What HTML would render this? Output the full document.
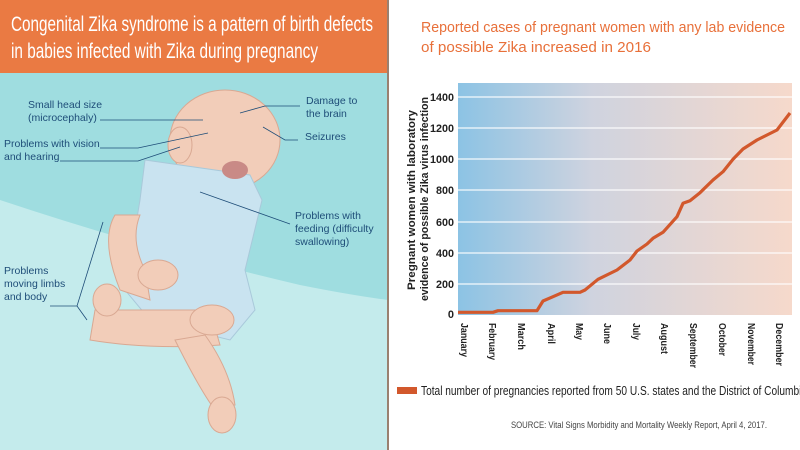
<!DOCTYPE html>
<html><head><meta charset="utf-8"><style>
html,body{margin:0;padding:0;width:800px;height:450px;overflow:hidden;background:#fff}
svg text{font-family:"Liberation Sans",sans-serif}
</style></head><body>
<svg width="800" height="450" viewBox="0 0 800 450" xmlns="http://www.w3.org/2000/svg">
<defs>
<linearGradient id="pg" x1="0" x2="1" y1="0" y2="0">
<stop offset="0" stop-color="#8cc3e4"/><stop offset="0.4" stop-color="#cfd3df"/><stop offset="1" stop-color="#f6d9cb"/>
</linearGradient>
</defs>
<rect x="0" y="73" width="388" height="377" fill="#9fdde0"/>
<path d="M0 200 Q150 250 300 285 Q350 295 388 300 L388 450 L0 450 Z" fill="#c4ebec"/>
<rect x="0" y="0" width="388" height="73" fill="#ea7a43"/>
<rect x="387" y="0" width="2" height="450" fill="#9a8070"/>
<text x="11" y="31" font-size="21" fill="#fff" textLength="362" lengthAdjust="spacingAndGlyphs">Congenital Zika syndrome is a pattern of birth defects</text>
<text x="11" y="58" font-size="21" fill="#fff" textLength="307" lengthAdjust="spacingAndGlyphs">in babies infected with Zika during pregnancy</text>
<g fill="#f2cdb9" stroke="#d9a892" stroke-width="1">
<ellipse cx="225" cy="140" rx="55" ry="50"/>
<ellipse cx="180" cy="145" rx="12" ry="18"/>
<path d="M145 160 L250 175 L262 200 L245 270 L255 310 L230 340 L150 320 L125 290 L140 200 Z" fill="#c9e3f0" stroke="#a9c9da"/>
<path d="M115 215 Q100 240 120 290 L150 300 L145 270 Q130 240 140 215 Z"/>
<path d="M210 310 Q160 310 95 310 L90 340 Q150 350 220 345 Z"/>
<ellipse cx="107" cy="300" rx="14" ry="16"/>
<path d="M175 340 Q200 390 215 410 L235 405 Q230 370 205 335 Z"/>
<ellipse cx="222" cy="415" rx="14" ry="18"/>
<ellipse cx="158" cy="275" rx="20" ry="15"/>
<ellipse cx="212" cy="320" rx="22" ry="15"/>
</g>
<ellipse cx="235" cy="170" rx="13" ry="9" fill="#c98a86"/>
<g fill="#1e4d78" font-size="10.5">
<text x="28" y="108">Small head size</text>
<text x="28" y="121">(microcephaly)</text>
<text x="4" y="147">Problems with vision</text>
<text x="4" y="160">and hearing</text>
<text x="306" y="104">Damage to</text>
<text x="306" y="117">the brain</text>
<text x="305" y="140">Seizures</text>
<text x="295" y="219">Problems with</text>
<text x="295" y="232">feeding (difficulty</text>
<text x="295" y="245">swallowing)</text>
<text x="4" y="274">Problems</text>
<text x="4" y="287">moving limbs</text>
<text x="4" y="300">and body</text>
</g>
<g stroke="#1e4d78" stroke-width="0.8" fill="none">
<path d="M100 120 L203 120"/><path d="M100 148 L138 148 L208 133"/><path d="M60 161 L138 161 L180 147"/>
<path d="M300 106 L265 106 L240 113"/><path d="M298 140 L285 140 L263 127"/>
<path d="M290 224 L200 192"/><path d="M50 306 L77 306 L103 222"/><path d="M77 306 L87 320"/>
</g>
<text x="421" y="32" font-size="15" fill="#e8703a" textLength="364" lengthAdjust="spacingAndGlyphs">Reported cases of pregnant women with any lab evidence</text>
<text x="421" y="52" font-size="15" fill="#e8703a" textLength="230" lengthAdjust="spacingAndGlyphs">of possible Zika increased in 2016</text>
<rect x="458" y="83" width="334" height="232" fill="url(#pg)"/>
<g stroke="#fff" stroke-width="1.2" opacity="0.9">
<line x1="458" x2="792" y1="97" y2="97"/><line x1="458" x2="792" y1="128" y2="128"/>
<line x1="458" x2="792" y1="159" y2="159"/><line x1="458" x2="792" y1="190" y2="190"/>
<line x1="458" x2="792" y1="222" y2="222"/><line x1="458" x2="792" y1="253" y2="253"/>
<line x1="458" x2="792" y1="284" y2="284"/>
</g>
<g font-size="11" font-weight="bold" fill="#222" text-anchor="end">
<text x="454" y="101" textLength="24" lengthAdjust="spacingAndGlyphs">1400</text><text x="454" y="132" textLength="24" lengthAdjust="spacingAndGlyphs">1200</text><text x="454" y="163" textLength="24" lengthAdjust="spacingAndGlyphs">1000</text>
<text x="454" y="194" textLength="18" lengthAdjust="spacingAndGlyphs">800</text><text x="454" y="226" textLength="18" lengthAdjust="spacingAndGlyphs">600</text><text x="454" y="257" textLength="18" lengthAdjust="spacingAndGlyphs">400</text>
<text x="454" y="288" textLength="18" lengthAdjust="spacingAndGlyphs">200</text><text x="454" y="318">0</text>
</g>
<g font-size="11" font-weight="bold" fill="#222">
<text transform="translate(415,290) rotate(-90)" textLength="180" lengthAdjust="spacingAndGlyphs">Pregnant women with laboratory</text>
<text transform="translate(428,301) rotate(-90)" textLength="204" lengthAdjust="spacingAndGlyphs">evidence of possible Zika virus infection</text>
</g>
<polyline fill="none" stroke="#d2582c" stroke-width="3.2" stroke-linejoin="round" points="458,312.3 493,312.3 498,310.7 537,310.7 543,301 553,296.7 563,292.3 580,292.3 585,290 598,279.3 617,270 630,260 637,251 647,244 653,238.3 663,232.3 677,216.7 683,203.3 690,200.7 700,192.7 713,180 723,171.7 733,159.3 743,149 757,140 777,130 790,113"/>
<g font-size="10.5" font-weight="bold" fill="#222">
<text transform="translate(461,323) rotate(90)" textLength="34" lengthAdjust="spacingAndGlyphs">January</text>
<text transform="translate(489,323) rotate(90)" textLength="37" lengthAdjust="spacingAndGlyphs">February</text>
<text transform="translate(518,323) rotate(90)" textLength="27" lengthAdjust="spacingAndGlyphs">March</text>
<text transform="translate(548,323) rotate(90)" textLength="21" lengthAdjust="spacingAndGlyphs">April</text>
<text transform="translate(576,323) rotate(90)" textLength="17" lengthAdjust="spacingAndGlyphs">May</text>
<text transform="translate(604,323) rotate(90)" textLength="21" lengthAdjust="spacingAndGlyphs">June</text>
<text transform="translate(633,323) rotate(90)" textLength="17" lengthAdjust="spacingAndGlyphs">July</text>
<text transform="translate(661,323) rotate(90)" textLength="31" lengthAdjust="spacingAndGlyphs">August</text>
<text transform="translate(690,323) rotate(90)" textLength="45" lengthAdjust="spacingAndGlyphs">September</text>
<text transform="translate(719,323) rotate(90)" textLength="33" lengthAdjust="spacingAndGlyphs">October</text>
<text transform="translate(748,323) rotate(90)" textLength="42" lengthAdjust="spacingAndGlyphs">November</text>
<text transform="translate(776,323) rotate(90)" textLength="43" lengthAdjust="spacingAndGlyphs">December</text>
</g>
<rect x="397" y="387" width="20" height="7" fill="#d2582c"/>
<text x="421" y="395" font-size="12.5" fill="#222" textLength="386" lengthAdjust="spacingAndGlyphs">Total number of pregnancies reported from 50 U.S. states and the District of Columbia</text>
<text x="511" y="428" font-size="9" fill="#444" textLength="256" lengthAdjust="spacingAndGlyphs">SOURCE: Vital Signs Morbidity and Mortality Weekly Report, April 4, 2017.</text>
</svg>
</body></html>
